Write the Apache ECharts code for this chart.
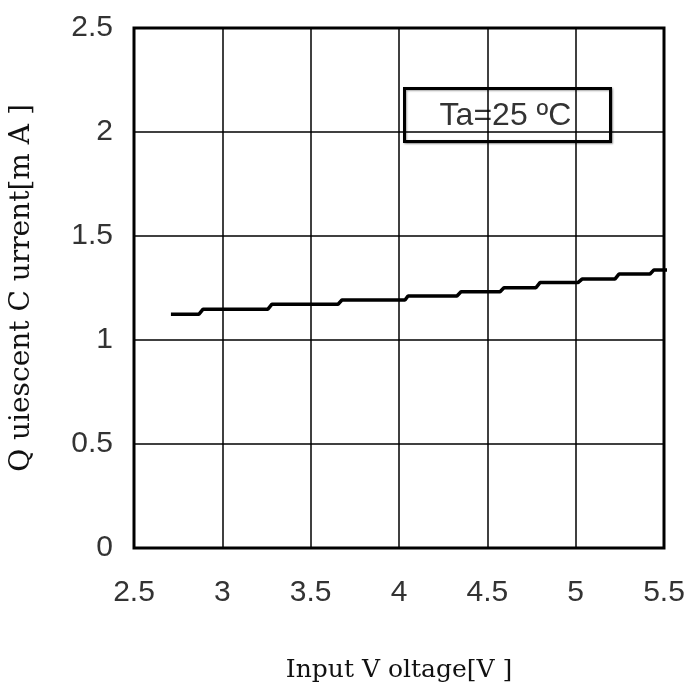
<!DOCTYPE html>
<html>
<head>
<meta charset="utf-8">
<script src="https://cdn.jsdelivr.net/npm/echarts@6/dist/echarts.min.js"></script>
<style>html,body{margin:0;padding:0;background:#fff}#c{width:688px;height:691px}</style>
</head>
<body>
<div id="c"></div>
<script>
var voltage = [2.709, 2.868, 2.891, 3.258, 3.281, 3.655, 3.677, 4.034, 4.051, 4.328, 4.351, 4.572, 4.594, 4.775, 4.798, 5.013, 5.036, 5.222, 5.245, 5.421, 5.443, 5.551];
var current = [1.124, 1.124, 1.148, 1.148, 1.172, 1.172, 1.192, 1.192, 1.212, 1.212, 1.232, 1.232, 1.251, 1.251, 1.276, 1.276, 1.293, 1.293, 1.317, 1.317, 1.337, 1.337];
var xTicks = [2.5, 3, 3.5, 4, 4.5, 5, 5.5];
var yTicks = [0, 0.5, 1, 1.5, 2, 2.5];
var xName = 'Input V oltage[V ]';
var yName = 'Q uiescent C urrent[m A ]';
var note = 'Ta=25 ºC';

var numFont = '"Liberation Sans", Arial, sans-serif';
var chart = echarts.init(document.getElementById('c'));
var pts = voltage.map(function(v, i){ return [v, current[i]]; });
chart.setOption({
  animation: false,
  grid: {left: 134, top: 28, right: 24, bottom: 143, show: true, borderColor: '#000', borderWidth: 3, backgroundColor: '#fff', containLabel: false, outerBoundsMode: 'none'},
  xAxis: {
    type: 'value', min: xTicks[0], max: xTicks[xTicks.length-1], interval: 0.5,
    axisLine: {show: false}, axisTick: {show: false},
    splitLine: {show: true, lineStyle: {color: '#000', width: 1.5}},
    axisLabel: {color: '#333', fontSize: 30, fontFamily: numFont, margin: 30},
    name: xName, nameLocation: 'middle', nameGap: 110,
    nameTextStyle: {color: '#111', fontSize: 25, fontFamily: 'DejaVu Serif'}
  },
  yAxis: {
    type: 'value', min: yTicks[0], max: yTicks[yTicks.length-1], interval: 0.5,
    axisLine: {show: false}, axisTick: {show: false},
    splitLine: {show: true, lineStyle: {color: '#000', width: 1.5}},
    axisLabel: {color: '#333', fontSize: 30, fontFamily: numFont, margin: 21},
    name: yName, nameLocation: 'middle', nameGap: 98,
    nameTextStyle: {color: '#111', fontSize: 28, fontFamily: 'DejaVu Serif'}
  },
  series: [{
    type: 'line', data: pts, symbol: 'none', clip: false,
    lineStyle: {color: '#000', width: 3.5}
  }],
  graphic: [{
    type: 'group', left: 403, top: 87,
    children: [
      {type: 'rect', shape: {x: 0, y: 0, width: 206, height: 53}, style: {fill: '#fff', stroke: '#000', lineWidth: 3, shadowColor: 'rgba(0,0,0,0.35)', shadowBlur: 2, shadowOffsetX: 1, shadowOffsetY: 1}},
      {type: 'text', style: {x: 101, y: 28, text: note, fill: '#333', font: '32px ' + numFont, align: 'center', verticalAlign: 'middle'}}
    ]
  }]
});
</script>
</body>
</html>
